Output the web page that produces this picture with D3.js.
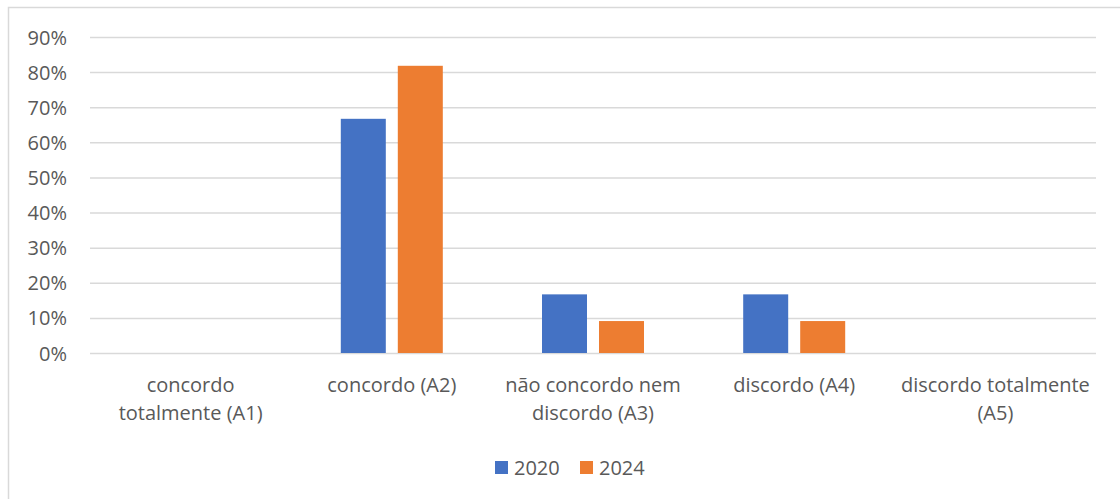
<!DOCTYPE html>
<html>
<head>
<meta charset="utf-8">
<script src="https://cdn.jsdelivr.net/npm/d3@7"></script>
<style>
  html, body { margin: 0; padding: 0; background: #ffffff; }
  svg { display: block; }
  text { font-family: "Open Sans", "Noto Sans", sans-serif; fill: #595959; }
</style>
</head>
<body>
<svg id="chart" width="1120" height="499"></svg>
<script>
// Response categories (x axis), one label line per array entry
const categories = ["A1", "A2", "A3", "A4", "A5"];
const categoryLabels = [
  ["concordo", "totalmente (A1)"],
  ["concordo (A2)"],
  ["não concordo nem", "discordo (A3)"],
  ["discordo (A4)"],
  ["discordo totalmente", "(A5)"]
];
// Share of answers per year, in percent
const seriesNames = ["2020", "2024"];
const values2020 = [0, 66.7, 16.7, 16.7, 0];
const values2024 = [0, 81.8, 9.1, 9.1, 0];
const seriesColors = ["#4472C4", "#ED7D31"];
const yTicks = [0, 10, 20, 30, 40, 50, 60, 70, 80, 90];

const seriesValues = [values2020, values2024];

const svg = d3.select("#chart");
const W = 1120, H = 499;
const plot = { left: 90, right: 1096, top: 37, bottom: 353 };
const fontSize = "20px";

// Chart area outline
svg.append("rect")
  .attr("x", 8.5).attr("y", 7.5)
  .attr("width", W).attr("height", H)
  .attr("fill", "none").attr("stroke", "#d9d9d9").attr("stroke-width", 1.5);

const x = d3.scaleBand()
  .domain(categories)
  .range([plot.left, plot.right])
  .paddingInner(0).paddingOuter(0);

const y = d3.scaleLinear()
  .domain([0, 90])
  .range([plot.bottom, plot.top]);

// Horizontal gridlines and percentage labels
const yAxis = d3.axisLeft(y)
  .tickValues(yTicks)
  .tickSize(-(plot.right - plot.left))
  .tickPadding(23)
  .tickFormat(d => d + "%");

const gy = svg.append("g")
  .attr("transform", `translate(${plot.left},0)`)
  .call(yAxis);
gy.select(".domain").remove();
gy.selectAll(".tick line").attr("stroke", "#d9d9d9").attr("stroke-width", 1.5);
gy.selectAll(".tick text")
  .attr("fill", "#595959")
  .style("font-family", "'Open Sans', 'Noto Sans', sans-serif")
  .style("font-size", fontSize)
  .attr("dy", "0.35em");

// Grouped bars
const barW = 45, barGap = 12;

const groups = svg.append("g").selectAll("g")
  .data(categories)
  .join("g")
  .attr("transform", c => `translate(${x(c) + x.bandwidth() / 2 - (2 * barW + barGap) / 2},0)`);

groups.selectAll("rect")
  .data((c, i) => seriesNames.map((s, k) => ({ s, k, v: seriesValues[k][i] })))
  .join("rect")
  .filter(d => d.v > 0)
  .attr("x", d => d.k * (barW + barGap))
  .attr("y", d => y(d.v))
  .attr("width", barW)
  .attr("height", d => y(0) - y(d.v))
  .attr("fill", d => seriesColors[d.k]);

// Category labels under the axis
const labels = svg.append("g").selectAll("text")
  .data(categories)
  .join("text")
  .attr("x", c => x(c) + x.bandwidth() / 2)
  .attr("y", 392)
  .attr("text-anchor", "middle")
  .style("font-size", fontSize);
labels.selectAll("tspan")
  .data((c, i) => categoryLabels[i])
  .join("tspan")
  .attr("x", function () { return this.parentNode.getAttribute("x"); })
  .attr("dy", (d, i) => i === 0 ? 0 : 28)
  .text(d => d);

// Legend
const legend = svg.append("g").attr("transform", "translate(495,467.5)");
const legendX = [0, 85];
seriesNames.forEach((name, k) => {
  const g = legend.append("g").attr("transform", `translate(${legendX[k]},0)`);
  g.append("rect")
    .attr("x", 0).attr("y", -6.5)
    .attr("width", 13).attr("height", 13)
    .attr("fill", seriesColors[k]);
  g.append("text")
    .attr("x", 19).attr("y", 0)
    .attr("dy", "0.35em")
    .style("font-size", fontSize)
    .text(name);
});
</script>
</body>
</html>
